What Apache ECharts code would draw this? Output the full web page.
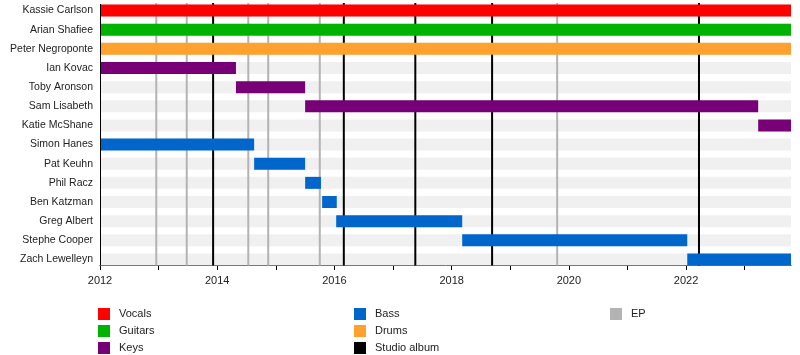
<!DOCTYPE html>
<html>
<head>
<meta charset="utf-8">
<script src="https://cdn.jsdelivr.net/npm/echarts@6/dist/echarts.min.js"></script>
<style>html,body{margin:0;padding:0;background:#fff}#c{width:800px;height:355px}</style>
</head>
<body>
<div id="c"></div>
<script>
const members = ['Kassie Carlson','Arian Shafiee','Peter Negroponte','Ian Kovac','Toby Aronson','Sam Lisabeth','Katie McShane','Simon Hanes','Pat Keuhn','Phil Racz','Ben Katzman','Greg Albert','Stephe Cooper','Zach Lewelleyn'];
const roles = ['Vocals','Guitars','Drums','Keys','Keys','Keys','Keys','Bass','Bass','Bass','Bass','Bass','Bass','Bass'];
const timelineEnd = 2023.79;
const startYears = [2012,2012,2012,2012,2014.32,2015.50,2023.23,2012,2014.63,2015.50,2015.79,2016.03,2018.18,2022.02];
const endYears = [timelineEnd,timelineEnd,timelineEnd,2014.32,2015.50,2023.23,timelineEnd,2014.63,2015.50,2015.77,2016.04,2018.18,2022.02,timelineEnd];
const studioAlbums = [2013.93,2016.16,2017.38,2018.69,2022.22];
const eps = [2012.96,2013.48,2014.53,2014.87,2015.75,2019.80];
const yearTicks = [2012,2013,2014,2015,2016,2017,2018,2019,2020,2021,2022,2023];
const yearLabels = [2012,2014,2016,2018,2020,2022];
const roleNames = ['Vocals','Guitars','Keys','Bass','Drums'];
const roleColors = {Vocals:'#ff0000',Guitars:'#00b300',Keys:'#770077',Bass:'#0066cc',Drums:'#ffa12e'};

const BAR_H = 12;
const FONT = 'Liberation Sans, Arial, sans-serif';

function renderBar(params, api){
  const s = api.value(0), e = api.value(1), r = api.value(2);
  const p0 = api.coord([s, r]); const p1 = api.coord([e, r]);
  return {type:'rect', shape:{x:p0[0], y:p0[1]-BAR_H/2, width:p1[0]-p0[0], height:BAR_H}, style: api.style()};
}
function renderStripe(params, api){
  const r = api.value(0);
  const cs = params.coordSys;
  const p = api.coord([2012, r]);
  return {type:'rect', shape:{x:cs.x, y:p[1]-BAR_H/2, width:cs.width, height:BAR_H}, style:{fill:'#f0f0f0'}};
}
function makeLineRenderer(color, width){
  return function(params, api){
    const x = api.value(0);
    const cs = params.coordSys;
    const pTop = api.coord([x, 0]);
    const pBot = api.coord([x, members.length-1]);
    return {type:'line', shape:{x1:pTop[0], y1:cs.y + 2, x2:pTop[0], y2:pBot[1]+BAR_H/2}, style:{stroke:color, lineWidth:width}};
  };
}

const series = [];
series.push({name:'bg', type:'custom', renderItem: renderStripe, data: members.map((m,i)=>[i]), z:1, silent:true, encode:{y:0}});
series.push({name:'Studio album', type:'custom', renderItem: makeLineRenderer('#000000', 2), itemStyle:{color:'#000000'}, data: studioAlbums.map(v=>[v]), z:3, encode:{x:0}});
series.push({name:'EP', type:'custom', renderItem: makeLineRenderer('#b3b3b3', 2), itemStyle:{color:'#b3b3b3'}, data: eps.map(v=>[v]), z:2, encode:{x:0}});
roleNames.forEach(role=>{
  const d = [];
  members.forEach((m,i)=>{ if(roles[i]===role) d.push([startYears[i], endYears[i], i]); });
  series.push({name:role, type:'custom', renderItem: renderBar, itemStyle:{color:roleColors[role]}, data:d, z:5, encode:{x:[0,1], y:2}});
});
series.push({name:'border', type:'custom', silent:true, z:6, data:[[2012]], encode:{x:0},
  renderItem:function(params, api){
    const cs = params.coordSys;
    const p = api.coord([api.value(0), members.length-1]);
    return {type:'line', shape:{x1:Math.round(p[0])+0.5, y1:cs.y + 3, x2:Math.round(p[0])+0.5, y2:p[1]+BAR_H/2}, style:{stroke:'#000', lineWidth:1}};
  }});

const legendCommon = {orient:'vertical', top:308, itemWidth:12, itemHeight:12, itemGap:5, padding:0, icon:'rect',
  textStyle:{fontFamily:FONT, fontSize:11, color:'#222', padding:[2,0,0,4]}, selectedMode:false};

const chart = echarts.init(document.getElementById('c'), null, {renderer:'canvas'});
chart.setOption({
  animation:false,
  backgroundColor:'#ffffff',
  grid:{left:100, right:9, top:1, bottom:86, containLabel:false},
  xAxis:{type:'value', min:2012, max:timelineEnd, offset:-4,
    axisLine:{show:true, lineStyle:{color:'#000', width:1}},
    axisTick:{show:true, length:5, lineStyle:{color:'#000'}, customValues: yearTicks},
    axisLabel:{fontFamily:FONT, fontSize:11, color:'#222', margin:10, customValues: yearLabels, formatter: v=>String(v)},
    splitLine:{show:false}},
  yAxis:{type:'category', inverse:true, data:members,
    axisLine:{show:false}, axisTick:{show:false},
    axisLabel:{fontFamily:FONT, fontSize:10.5, color:'#222', margin:7}},
  legend:[
    Object.assign({left:98, data:['Vocals','Guitars','Keys']}, legendCommon),
    Object.assign({left:354, data:['Bass','Drums','Studio album']}, legendCommon),
    Object.assign({left:610, data:['EP']}, legendCommon)
  ],
  series: series
});
</script>
</body>
</html>
